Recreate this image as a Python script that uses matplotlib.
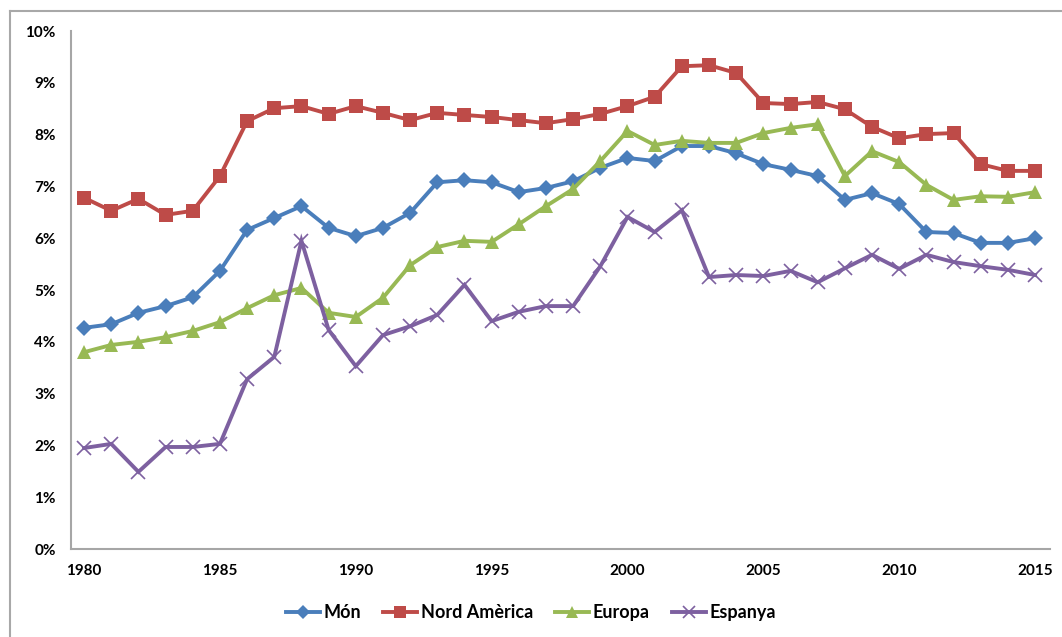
import matplotlib
matplotlib.use("Agg")
import matplotlib.pyplot as plt
from matplotlib.lines import Line2D
from matplotlib.ticker import FuncFormatter

years = list(range(1980, 2016))

mon = [4.27, 4.34, 4.56, 4.69, 4.86, 5.37, 6.16, 6.39, 6.62, 6.20,
       6.04, 6.20, 6.49, 7.08, 7.12, 7.08, 6.89, 6.97, 7.10, 7.36,
       7.55, 7.49, 7.78, 7.78, 7.64, 7.43, 7.32, 7.20, 6.74, 6.87,
       6.66, 6.12, 6.10, 5.91, 5.91, 6.00]
nord_america = [6.78, 6.53, 6.76, 6.45, 6.53, 7.20, 8.26, 8.51, 8.55, 8.40,
                8.55, 8.42, 8.28, 8.42, 8.38, 8.34, 8.28, 8.22, 8.30, 8.40,
                8.55, 8.73, 9.32, 9.34, 9.19, 8.61, 8.59, 8.63, 8.49, 8.15,
                7.93, 8.01, 8.03, 7.43, 7.30, 7.30]
europa = [3.80, 3.94, 4.00, 4.09, 4.21, 4.38, 4.65, 4.90, 5.04, 4.56,
          4.48, 4.85, 5.48, 5.83, 5.95, 5.93, 6.27, 6.62, 6.95, 7.49,
          8.07, 7.80, 7.88, 7.84, 7.84, 8.03, 8.13, 8.20, 7.20, 7.68,
          7.47, 7.03, 6.74, 6.81, 6.80, 6.89]
espanya = [1.95, 2.03, 1.49, 1.97, 1.97, 2.03, 3.28, 3.71, 5.95, 4.23,
           3.53, 4.13, 4.30, 4.52, 5.10, 4.40, 4.58, 4.69, 4.69, 5.46,
           6.41, 6.12, 6.54, 5.25, 5.29, 5.27, 5.37, 5.15, 5.42, 5.68,
           5.41, 5.68, 5.54, 5.46, 5.39, 5.29]

plt.rcParams['font.family'] = ['Lato', 'DejaVu Sans']

W, H = 1062, 637
fig = plt.figure(figsize=(W / 100, H / 100), dpi=100)
ax = fig.add_axes([0.0669, 0.1381, 0.9218, 0.8132])

# series: (label, values, colour, marker, size)
series = [
    ("Món", mon, "#4a7ebb", "D", 8.5),
    ("Nord Amèrica", nord_america, "#be4b48", "s", 9.5),
    ("Europa", europa, "#98b954", "^", 10.5),
    ("Espanya", espanya, "#7d60a0", "x", 10),
]
for label, vals, col, mk, ms in series:
    y = [v / 100 for v in vals]
    mew = 1.2 if mk == "x" else 0
    ax.plot(years, y, color=col, lw=2.8, marker=mk, ms=ms, mew=mew,
            label=label, solid_joinstyle="miter")

ax.set_xlim(1979.52, 2015.55)
ax.set_ylim(0, 0.10)
ax.set_xticks(range(1980, 2016, 5))
ax.set_yticks([i / 100 for i in range(11)])
ax.yaxis.set_major_formatter(FuncFormatter(lambda v, p: f"{round(v * 100)}%"))

for s in ["top", "right"]:
    ax.spines[s].set_visible(False)
for s in ["left", "bottom"]:
    ax.spines[s].set_color("#a6a6a6")
    ax.spines[s].set_linewidth(1.5)

ax.tick_params(axis="y", length=0, pad=11, labelsize=11)
ax.tick_params(axis="x", length=0, pad=11, labelsize=11)
for t in ax.get_xticklabels() + ax.get_yticklabels():
    t.set_fontweight("bold")

leg = fig.legend(loc="center", bbox_to_anchor=(0.5, 0.038), ncol=4,
                 frameon=False, handlelength=1.9, columnspacing=1.2,
                 handletextpad=0.2, markerscale=0.85,
                 prop={"weight": "bold", "size": 13})

# chart-area border (top and left only are in view)
fig.add_artist(Line2D([10 / W, 1.0], [1 - 11 / H, 1 - 11 / H],
                      transform=fig.transFigure, color="#a8a8a8", lw=1.5))
fig.add_artist(Line2D([10 / W, 10 / W], [0.0, 1 - 11 / H],
                      transform=fig.transFigure, color="#a8a8a8", lw=1.5))

fig.savefig("out.png", dpi=100)
